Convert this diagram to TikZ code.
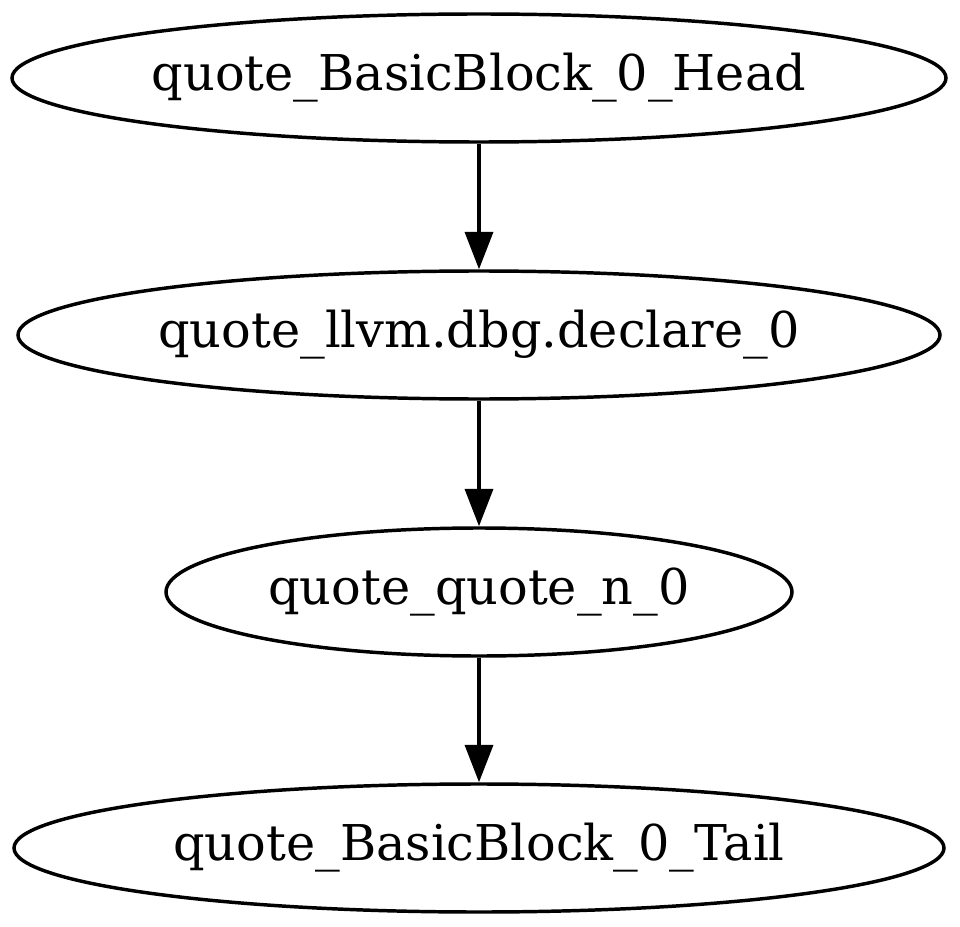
\documentclass[tikz,border=0pt]{standalone}
\usepackage{fontspec}
\setmainfont{DejaVu Serif}
\usetikzlibrary{arrows.meta,shapes.geometric}
\begin{document}
\begin{tikzpicture}[x=0.75pt,y=-0.75pt,
  gnode/.style={draw,ellipse,line width=2.6pt,inner sep=0pt,font=\fontsize{37pt}{44pt}\selectfont},
  garrow/.style={line width=2.6pt,-{Triangle[length=28pt,width=21pt]}}]
\useasboundingbox (0,0) rectangle (960,927);
\node[gnode,minimum width=934*0.75pt,minimum height=128*0.75pt] (head) at (479,78) {quote\_BasicBlock\_0\_Head};
\node[gnode,minimum width=922*0.75pt,minimum height=128*0.75pt] (llvm) at (479,335) {quote\_llvm.dbg.declare\_0};
\node[gnode,minimum width=626*0.75pt,minimum height=128*0.75pt] (qn) at (479,592) {quote\_quote\_n\_0};
\node[gnode,minimum width=930*0.75pt,minimum height=128*0.75pt] (tail) at (479,848) {quote\_BasicBlock\_0\_Tail};
\draw[garrow] (head) -- (llvm);
\draw[garrow] (llvm) -- (qn);
\draw[garrow] (qn) -- (tail);
\end{tikzpicture}
\end{document}
